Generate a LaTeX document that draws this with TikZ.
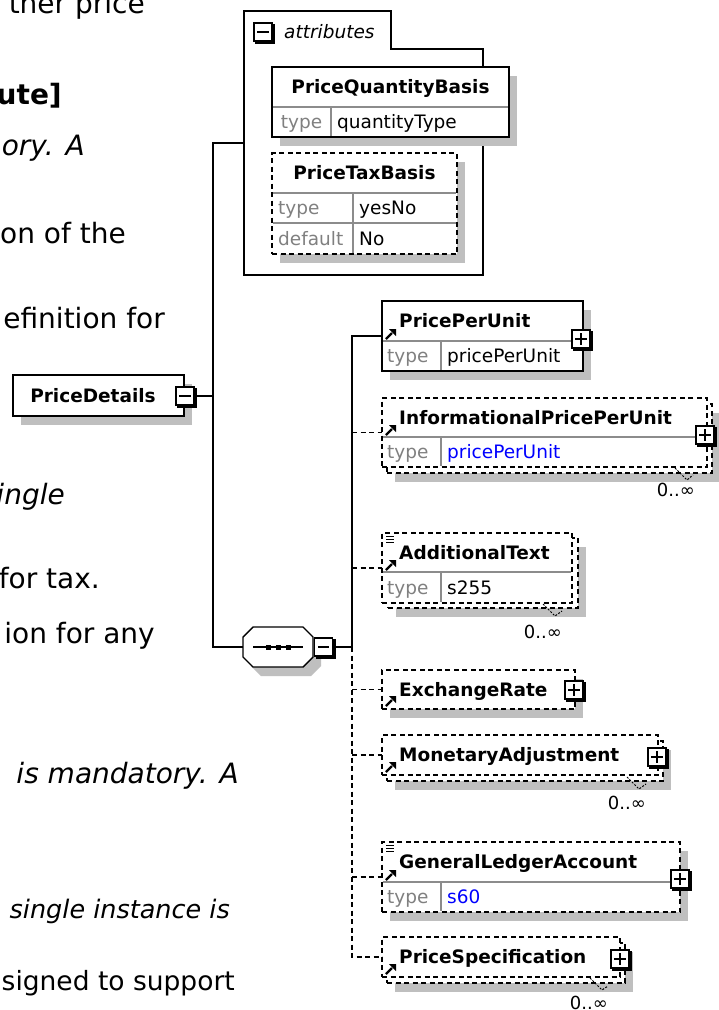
\documentclass[tikz,border=0pt]{standalone}
\usepackage{fontspec}
\setmainfont{DejaVu Sans}
\usetikzlibrary{arrows.meta, calc, positioning, shadows}

\tikzset{
  page/.style={inner sep=0pt, anchor=base east, font=\fontsize{28}{34}\selectfont},
  pagei/.style={page, font=\fontsize{28}{34}\selectfont\itshape},
  pageb/.style={page, font=\fontsize{28}{34}\selectfont\bfseries},
  lbl/.style={inner sep=0pt, text height=13.5pt, text depth=0pt, anchor=west, font=\fontsize{18.5}{22}\selectfont},
  ttl/.style={lbl, font=\fontsize{18.5}{22}\selectfont\bfseries},
  key/.style={lbl, text=black!50},
  occ/.style={inner sep=0pt, anchor=east, font=\fontsize{18}{22}\selectfont},
  shd/.style={drop shadow={shadow xshift=8pt, shadow yshift=-9pt, fill=black!25, opacity=1}},
  elem/.style={draw, fill=white, line width=1.4pt, inner sep=0pt, outer sep=0pt, anchor=north west},
  opt/.style={elem, dash pattern=on 5pt off 3.5pt},
  row/.style={draw=black!45, line width=1.2pt},
  conn/.style={line width=1.4pt},
  optconn/.style={conn, dash pattern=on 5pt off 3.5pt},
  notch/.style={line width=1pt, dash pattern=on 2pt off 1.5pt},
}

\newcommand{\pmbox}[3]{%
  \node[draw, fill=white, line width=1.2pt, minimum size=18pt, inner sep=0pt] (#1) at (#2) {};
  \draw[line width=2.4pt] ($(#1.north east)+(1.2,2)$) |- ($(#1.south west)+(2,1.2)$);
  \draw[line width=1.2pt] ($(#1.west)+(4,0)$) -- ($(#1.east)+(-4,0)$);
  \ifx+#3\draw[line width=1.2pt] ($(#1.north)+(0,4)$) -- ($(#1.south)+(0,-4)$);\fi}
\newcommand{\docicon}[1]{%
  \draw[line width=1pt] ($(#1.north west)+(4,3)$) -- ++(8,0) ($(#1.north west)+(4,6)$) -- ++(8,0) ($(#1.north west)+(4,9)$) -- ++(8,0);}
\newcommand{\refmark}[1]{%
  \draw[line width=2.2pt] (#1) -- ++(6,-6);
  \fill ($(#1)+(3,-10)$) -- ++(7,0) -- ++(0,7) -- cycle;}

\begin{document}
\begin{tikzpicture}[x=1pt, y=-1pt]
\useasboundingbox (0,0) rectangle (718,1010);
\fill[white] (0,0) rectangle (718,1010);

\node[page] (l1) at (145,13) {ther price};
\node[pageb] (l2) at (62,104) {ute]};
\node[pagei] (l3) at (85,155) {ory. A};
\node[page] (l4) at (126,243) {on of the};
\node[page] (l5) at (165,328) {efinition for};
\node[pagei] (l6) at (65,504) {ingle};
\node[page] (l7) at (100,588) {for tax.};
\node[page] (l8) at (155,643) {ion for any};
\node[pagei] (l9) at (239,783) {is mandatory. A};
\node[page, font=\fontsize{25.5}{30}\selectfont\itshape] (l10) at (230,918) {single instance is};
\node[page, font=\fontsize{26.5}{30}\selectfont] (l11) at (235,990) {signed to support};

\draw[conn, fill=white] (244,11) -- (391,11) -- (391,49) -- (483,49) -- (483,275) -- (244,275) -- cycle;
\coordinate (attr) at (244,143);
\pmbox{attm}{263,32}{-}
\node[lbl, font=\fontsize{18.5}{22}\selectfont\itshape] (attl) at (284,32) {attributes};

\node[elem, shd, minimum width=237, minimum height=70] (pqb) at (272,67) {};
\draw[row] (273,107) -- (508,107) (331,107) -- (331,136);
\node[ttl, anchor=center] (pqbt) at (390.5,87) {PriceQuantityBasis};
\node[key, anchor=center] (pqbk) at (301.5,122) {type};
\node[lbl] (pqbv) at (337,122) {quantityType};

\node[opt, shd, minimum width=185, minimum height=101] (ptb) at (272,153) {};
\draw[row] (273,193) -- (456,193) (273,223) -- (456,223) (353,193) -- (353,253);
\node[ttl, anchor=center] (ptbt) at (364.5,173) {PriceTaxBasis};
\node[key] (ptbk) at (278,208) {type};
\node[lbl] (ptbv) at (359,208) {yesNo};
\node[key] (ptbd) at (278,238.5) {default};
\node[lbl] (ptbn) at (359,238.5) {No};

\node[elem, shd, minimum width=171, minimum height=41] (pd) at (13,375) {};
\node[ttl, anchor=center] (pdt) at (93,395.5) {PriceDetails};
\pmbox{pdm}{185,396}{-}

\node[minimum width=70, minimum height=41, inner sep=0pt] (seq) at (278,647) {};
\fill[black!25] (251,646) -- (261,636) -- (311,636) -- (321,646) -- (321,666) -- (311,676) -- (261,676) -- (251,666) -- cycle;
\draw[conn, fill=white] (243,637) -- (253,627) -- (303,627) -- (313,637) -- (313,657) -- (303,667) -- (253,667) -- (243,657) -- cycle;
\draw[line width=1.2pt] (253,647) -- (303,647);
\foreach \x in {268,278,288} \fill (\x-2.5,644.5) rectangle (\x+2.5,649.5);
\pmbox{seqm}{323.5,647}{-}

\node[elem, shd, minimum width=201, minimum height=70] (ppu) at (382,301) {};
\draw[row] (383,341) -- (582,341) (441,341) -- (441,370);
\node[ttl] (ppun) at (399,321) {PricePerUnit};
\node[key] (ppuk) at (387,356) {type};
\node[lbl] (ppuv) at (447,356) {pricePerUnit};
\pmbox{ppup}{581,339}{+}
\refmark{386,339}

\node[opt, shd, minimum width=325, minimum height=69] (ipub) at (387,404) {};
\node[opt, minimum width=325, minimum height=69] (ipu) at (382,398) {};
\draw[row] (383,437) -- (706,437) (441,437) -- (441,466);
\node[ttl] (ipun) at (399,417.5) {InformationalPricePerUnit};
\node[key] (ipuk) at (387,452) {type};
\node[lbl, text=blue] (ipuv) at (447,452) {pricePerUnit};
\pmbox{ipup}{705,435}{+}
\refmark{386,435}
\draw[notch] (675,468) -- (687,480) -- (693,475);
\node[occ] (ipuo) at (695,490) {0..∞};

\node[opt, shd, minimum width=190, minimum height=70] (adtb) at (388,538) {};
\node[opt, minimum width=190, minimum height=70] (adt) at (382,533) {};
\draw[row] (383,572) -- (571,572) (441,572) -- (441,602);
\node[ttl] (adtn) at (399,552.5) {AdditionalText};
\node[key] (adtk) at (387,587.5) {type};
\node[lbl] (adtv) at (447,587.5) {s255};
\docicon{adt}
\refmark{386,570}
\draw[notch] (543,604) -- (555,616) -- (562,611);
\node[occ] (adto) at (562,632) {0..∞};

\node[opt, shd, minimum width=193, minimum height=39] (exr) at (382,670) {};
\node[ttl] (exrn) at (399,689.5) {ExchangeRate};
\pmbox{exrp}{574,690}{+}
\refmark{386,706}

\node[opt, shd, minimum width=276, minimum height=40] (madb) at (387,741) {};
\node[opt, minimum width=276, minimum height=40] (mad) at (382,735) {};
\node[ttl] (madn) at (399,755) {MonetaryAdjustment};
\pmbox{madp}{657,757}{+}
\refmark{386,772}
\draw[notch] (627,777) -- (639,789) -- (646,784);
\node[occ] (mado) at (646,803) {0..∞};

\node[opt, shd, minimum width=298, minimum height=70] (gla) at (382,842) {};
\draw[row] (383,882) -- (679,882) (441,882) -- (441,911);
\node[ttl] (glan) at (399,862) {GeneralLedgerAccount};
\node[key] (glak) at (387,897) {type};
\node[lbl, text=blue] (glav) at (447,897) {s60};
\docicon{gla}
\pmbox{glap}{680,879}{+}
\refmark{386,880}

\node[opt, shd, minimum width=238, minimum height=40] (pspb) at (387,943) {};
\node[opt, minimum width=238, minimum height=40] (psp) at (382,937) {};
\node[ttl] (pspn) at (399,957) {PriceSpecification};
\pmbox{pspp}{620,959}{+}
\refmark{386,974}
\draw[notch] (590,978) -- (602,990) -- (608,986);
\node[occ] (pspo) at (608,1003) {0..∞};

\coordinate (lt) at (213,143);
\coordinate (lb) at (213,647);
\coordinate (rt) at (352,647);
\draw[conn] (pdm.east) -- (pdm.east -| lt);
\draw[conn] (attr) -- (lt) -- (lb) -- (seq.west);
\draw[conn] (seqm.east) -- (rt) -- (rt |- ppu.west) -- (ppu.west);
\draw[optconn] (rt) -- (rt |- psp.west) -- (psp.west);
\foreach \n in {ipu,adt,exr,mad,gla} \draw[optconn] (rt |- \n.west) -- (\n.west);
\end{tikzpicture}
\end{document}
